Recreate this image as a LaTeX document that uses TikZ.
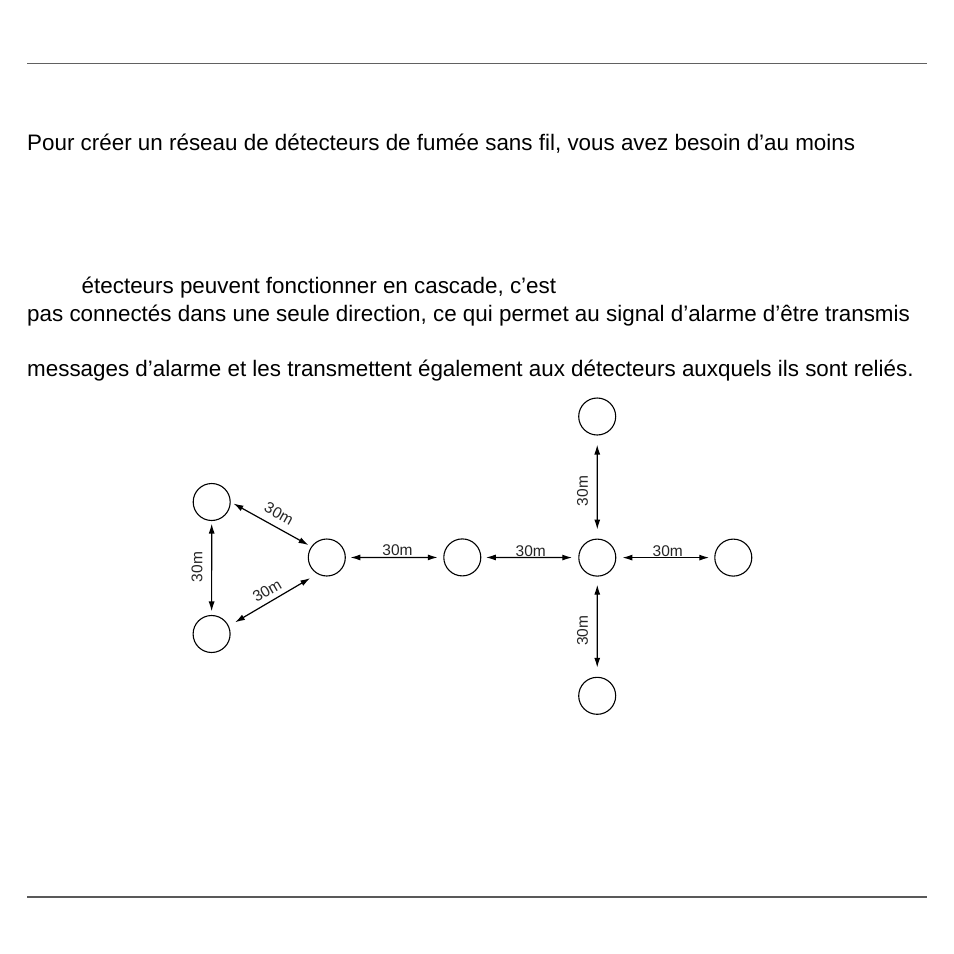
\documentclass[tikz,border=0pt]{standalone}
\usepackage{fontspec}
\setmainfont{Liberation Sans}
\usetikzlibrary{arrows.meta,calc}
\tikzset{
  det/.style={draw=black, line width=1.1pt, circle, minimum size=37pt, inner sep=0pt},
  conn/.style={draw=black, line width=1.2pt, {Latex[length=10pt,width=6pt]}-{Latex[length=10pt,width=6pt]}},
  lab/.style={font=\fontsize{15.5}{16}\selectfont, inner sep=0pt, text=black!85},
  para/.style={anchor=base west, inner sep=0pt, font=\fontsize{22.4}{27}\selectfont}
}
\begin{document}
\begin{tikzpicture}[x=1pt,y=-1pt]
\useasboundingbox (0,0) rectangle (954,954);
\fill[white] (0,0) rectangle (954,954);
% rules
\coordinate (t1) at (27,63.3);
\coordinate (t2) at (927,63.3);
\coordinate (b1) at (27,896.7);
\coordinate (b2) at (927,896.7);
\draw[line width=0.8pt, black!62] (t1) -- (t2);
\draw[line width=1.8pt, black!65] (b1) -- (b2);
% text
\node[para] (p1) at (27,150.7) {Pour créer un réseau de détecteurs de fumée sans fil, vous avez besoin d’au moins};
\node[para] (p2) at (81.5,293) {étecteurs peuvent fonctionner en cascade, c’est};
\node[para] (p3) at (27,321) {pas connectés dans une seule direction, ce qui permet au signal d’alarme d’être transmis};
\node[para] (p4) at (27,376.5) {messages d’alarme et les transmettent également aux détecteurs auxquels ils sont reliés.};
% detectors
\node[det] (A) at (211.7,502) {};
\node[det] (B) at (211.6,634) {};
\node[det] (C) at (326.8,557.5) {};
\node[det] (D) at (462.3,557.4) {};
\node[det] (E) at (597.3,557.6) {};
\node[det] (F) at (597.2,416.5) {};
\node[det] (G) at (733.3,557.6) {};
\node[det] (H) at (597.2,695.8) {};
% connectors
\draw[conn, shorten <=2.5pt, shorten >=3.5pt] (A) -- (B);
\draw[conn, shorten <=3pt, shorten >=3pt] (A.east) -- (C.145);
\draw[conn, shorten <=7pt, shorten >=8pt] (B.25) -- (C.240);
\draw[conn, shorten <=4.5pt, shorten >=5.5pt] (C) -- (D);
\draw[conn, shorten <=4.5pt, shorten >=6pt] (D) -- (E);
\draw[conn, shorten <=9pt, shorten >=9pt] (F) -- (E);
\draw[conn, shorten <=6pt, shorten >=5pt] (E) -- (G);
\draw[conn, shorten <=8pt, shorten >=9pt] (E) -- (H);
% labels
\node[lab, rotate=90, anchor=south] (lAB) at ($(A)!0.5!(B)+(-9,-1)$) {30m};
\node[lab, rotate=-29] (lAC) at (279,513.5) {30m};
\node[lab, rotate=30] (lBC) at (267,590.5) {30m};
\node[lab, anchor=base] (lCD) at ($(C)!0.5!(D)+(3,-1.5)$) {30m};
\node[lab, anchor=base] (lDE) at ($(D)!0.5!(E)+(1,-1.5)$) {30m};
\node[lab, anchor=base] (lEG) at ($(E)!0.5!(G)+(2.5,-1.5)$) {30m};
\node[lab, rotate=90, anchor=south] (lEF) at ($(E)!0.5!(F)+(-9,4)$) {30m};
\node[lab, rotate=90, anchor=south] (lEH) at ($(E)!0.5!(H)+(-9,4)$) {30m};
\end{tikzpicture}
\end{document}
